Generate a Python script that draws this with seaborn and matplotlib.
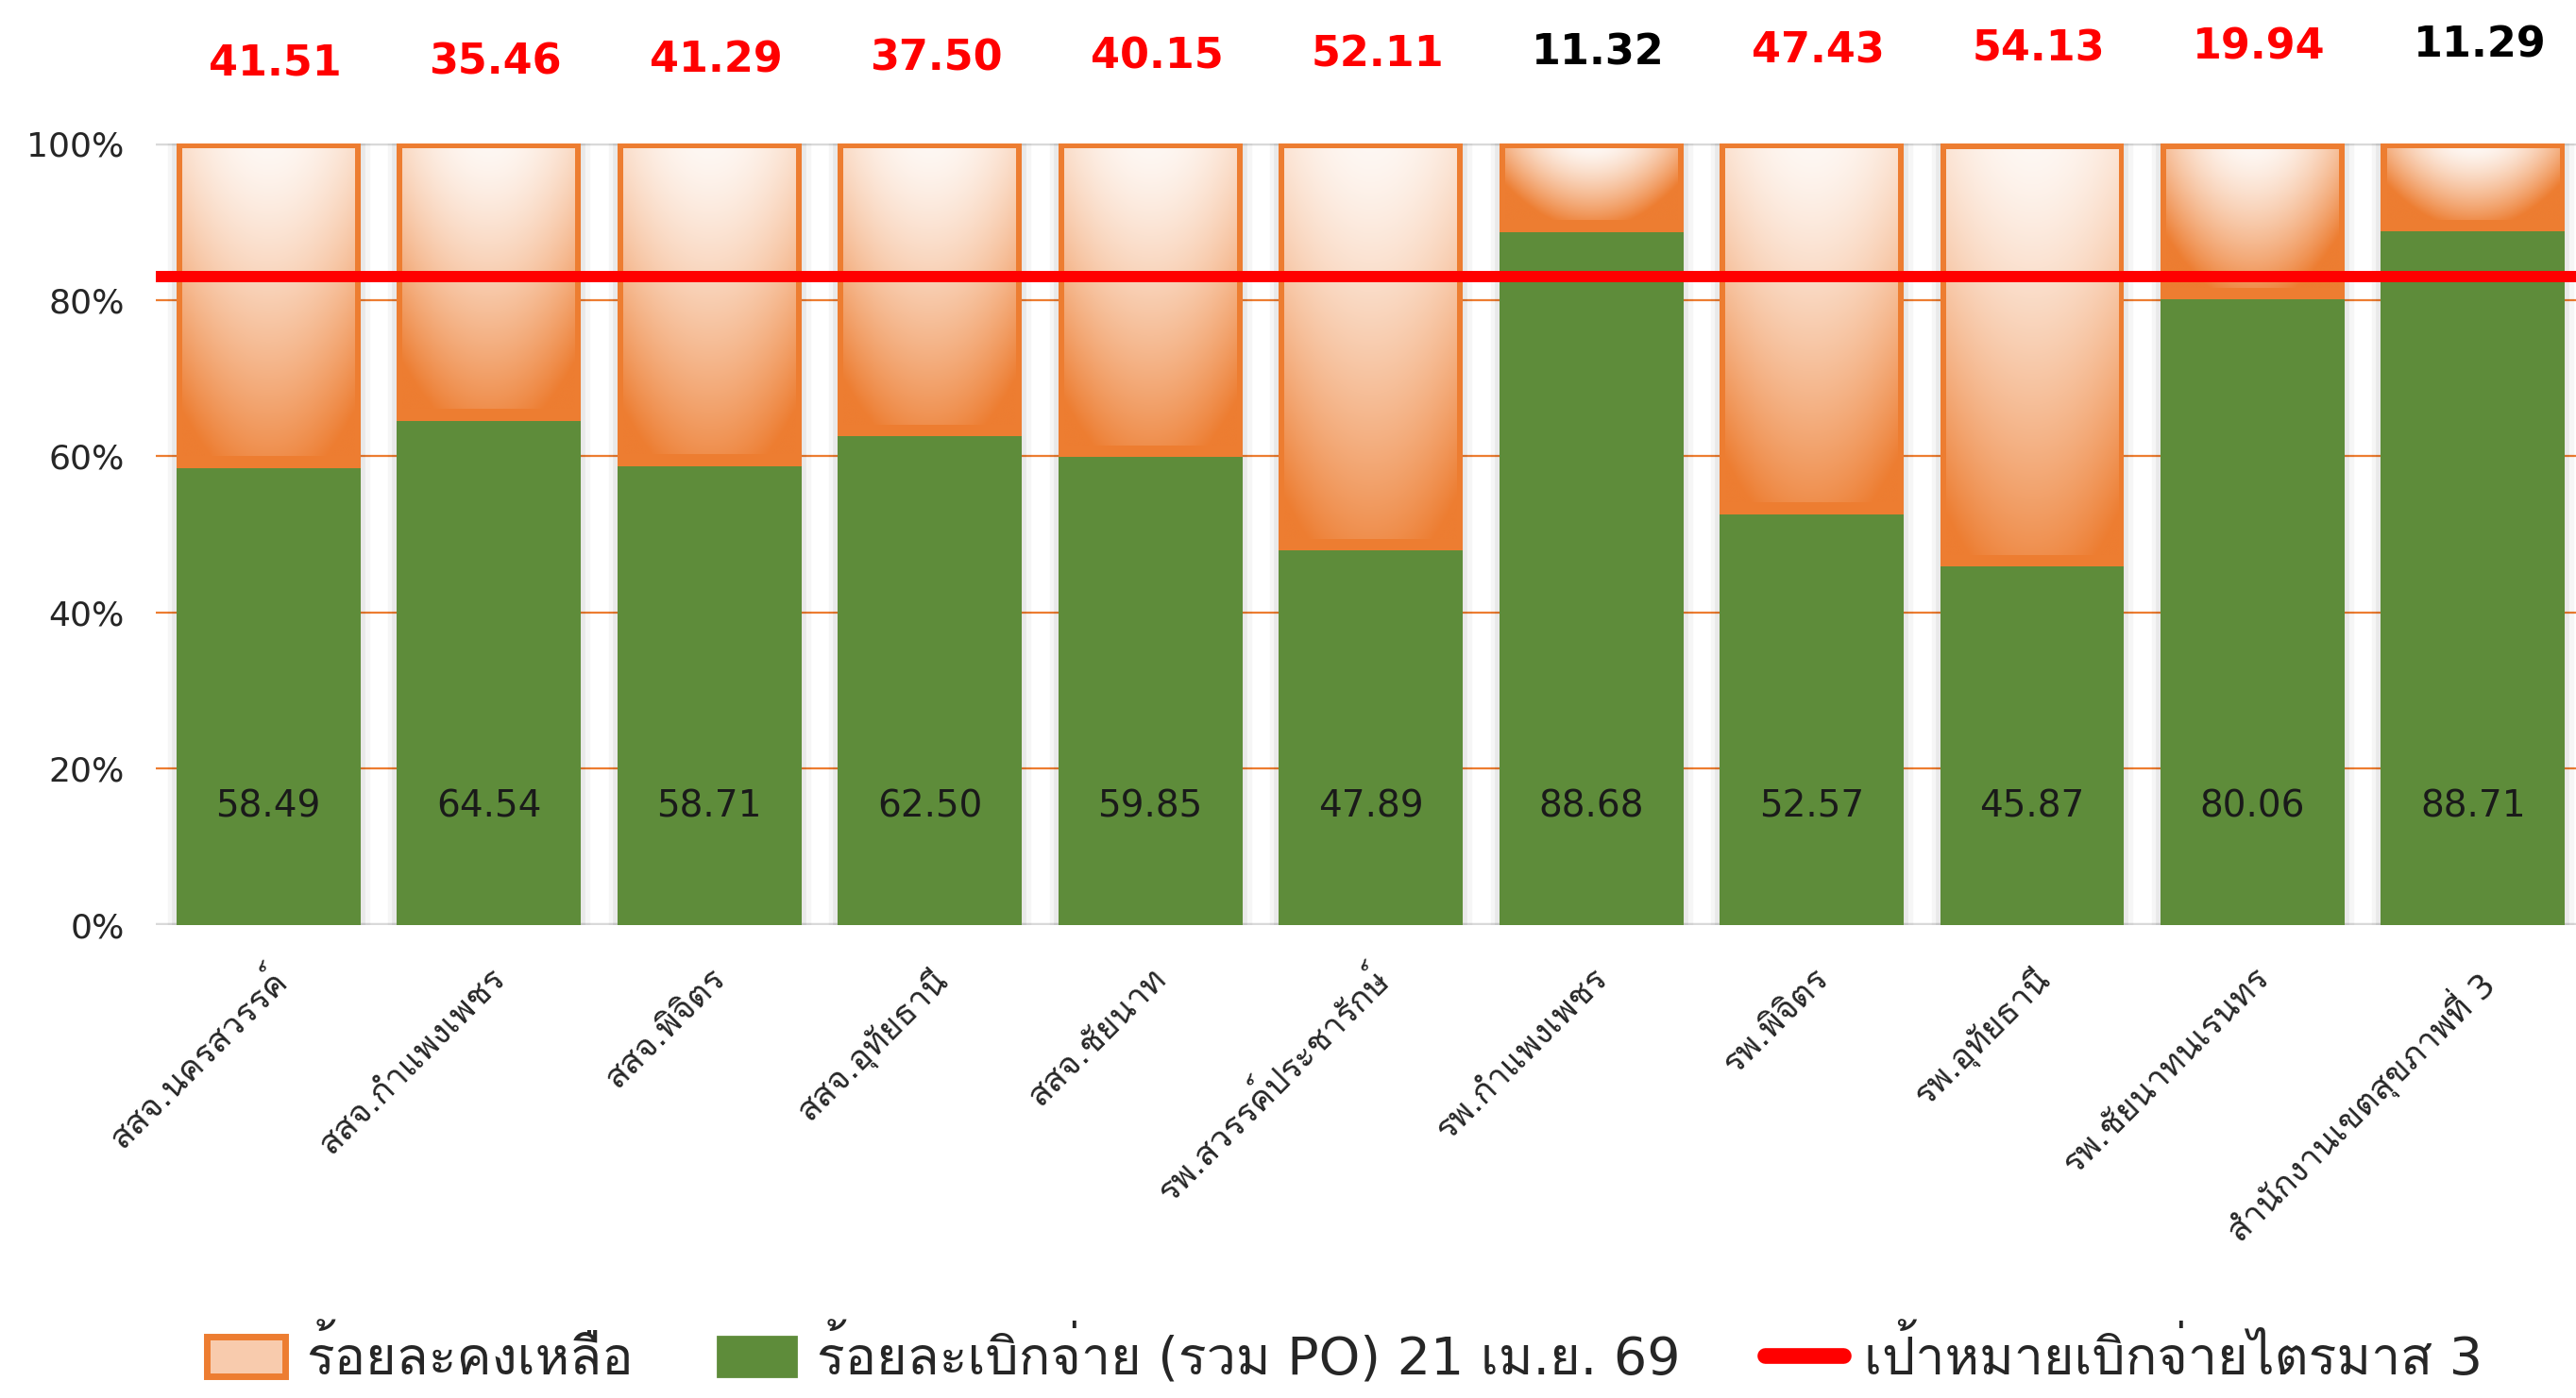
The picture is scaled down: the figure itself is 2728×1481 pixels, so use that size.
import matplotlib
matplotlib.use("Agg")
import matplotlib.pyplot as plt
import matplotlib.patheffects as pe
import numpy as np
import pandas as pd
import seaborn as sns
from matplotlib.lines import Line2D
from matplotlib.patches import Patch
from matplotlib.ticker import FuncFormatter

units = [
    "สสจ.นครสวรรค์",
    "สสจ.กำแพงเพชร",
    "สสจ.พิจิตร",
    "สสจ.อุทัยธานี",
    "สสจ.ชัยนาท",
    "รพ.สวรรค์ประชารักษ์",
    "รพ.กำแพงเพชร",
    "รพ.พิจิตร",
    "รพ.อุทัยธานี",
    "รพ.ชัยนาทนเรนทร",
    "สำนักงานเขตสุขภาพที่ 3",
]
disbursed = [58.49, 64.54, 58.71, 62.50, 59.85, 47.89, 88.68, 52.57, 45.87, 80.06, 88.71]
remaining = [41.51, 35.46, 41.29, 37.50, 40.15, 52.11, 11.32, 47.43, 54.13, 19.94, 11.29]
target_q3 = 83

label_remaining = "ร้อยละคงเหลือ"
label_disbursed = "ร้อยละเบิกจ่าย (รวม PO) 21 เม.ย. 69"
label_target = "เป้าหมายเบิกจ่ายไตรมาส 3"

GREEN = "#5E8C3A"
ORANGE = "#ED7D31"
RED = "#FF0000"

sns.set_style("white")
# DejaVu for digits/latin, Loma picks up the Thai glyphs
plt.rcParams["font.family"] = ["DejaVu Sans", "Loma"]

df = pd.DataFrame({"unit": units, "disbursed": disbursed, "remaining": remaining})
df["total"] = df["disbursed"] + df["remaining"]

fig = plt.figure(figsize=(13.64, 7.405), dpi=200)
ax = fig.add_axes([0.0605, 0.3383, 0.9395, 0.5591])

# gridlines
for g in [20, 40, 60, 80]:
    ax.axhline(g, color=ORANGE, lw=0.8, zorder=0)
for g in [0, 100]:
    ax.axhline(g, color="#D9D9D9", lw=1.6, zorder=0)

bar_w = 0.835
sns.barplot(data=df, x="unit", y="total", order=units, color=ORANGE, width=bar_w,
            saturation=1, linewidth=0, zorder=2, ax=ax)
n_orange = len(ax.patches)
sns.barplot(data=df, x="unit", y="disbursed", order=units, color=GREEN, width=bar_w,
            saturation=1, linewidth=0, zorder=4, ax=ax)
orange_bars = ax.patches[:n_orange]
green_bars = ax.patches[n_orange:]

# soft grey glow around the bars
for ob in orange_bars:
    ob.set_path_effects([
        pe.Stroke(linewidth=7, foreground="black", alpha=0.035),
        pe.Stroke(linewidth=3.5, foreground="black", alpha=0.05),
        pe.Normal(),
    ])

# gradient fill inside the orange (remaining) segment
orange_rgb = np.array([237, 125, 49]) / 255.0
for ob, gb in zip(orange_bars, green_bars):
    x0 = ob.get_x() + 0.026
    x1 = ob.get_x() + ob.get_width() - 0.026
    y_lo = gb.get_height() + 1.5
    y_hi = ob.get_height() - 0.7
    seg_h = y_hi - y_lo
    xs = np.linspace(-1, 1, 120)
    ys = np.linspace(0, 1, 200)
    dx, dy = np.meshgrid(xs, ys)
    s = min(1.0, 14.0 / max(seg_h, 1e-6))
    t = np.clip(0.06 + 0.8 * dy ** 1.3 + 0.55 * s * dx ** 2 + 0.1 * dx ** 2 * dy, 0, 1)
    img = (1 - t)[..., None] * np.ones(3) + t[..., None] * orange_rgb
    ax.imshow(img, extent=[x0, x1, y_lo, y_hi], origin="upper", aspect="auto",
              interpolation="bicubic", zorder=3)

ax.axhline(target_q3, color=RED, lw=4.3, zorder=6)

# value labels
n = len(units)
for i, (d, r) in enumerate(zip(disbursed, remaining)):
    ax.text(i, 15.2, f"{d:.2f}", ha="center", va="center", fontsize=14, color="#1a1a1a", zorder=7)
    top_y = 110.2 + 2.4 * i / (n - 1)
    color = RED if r > 100 - target_q3 else "black"
    ax.text(i + 0.03, top_y, f"{r:.2f}", ha="center", va="center", fontsize=16,
            fontweight="bold", color=color, clip_on=False)

ax.set_xlim(-0.51, 10.467)
ax.set_ylim(0, 100)
ax.set_yticks([0, 20, 40, 60, 80, 100])
ax.yaxis.set_major_formatter(FuncFormatter(lambda v, p: f"{v:.0f}%"))
ax.tick_params(axis="y", length=0, labelsize=13, pad=12)
ax.tick_params(axis="x", length=0, labelsize=13, pad=14)
ax.set_xticks(range(n))
ax.set_xticklabels(units, rotation=45, ha="right", va="top", rotation_mode="anchor")
ax.set_xlabel("")
ax.set_ylabel("")
for sp in ax.spines.values():
    sp.set_visible(False)

handles = [
    Patch(facecolor="#F8CBAD", edgecolor=ORANGE, linewidth=2.5),
    Patch(facecolor=GREEN, edgecolor=GREEN),
    Line2D([0], [0], color=RED, lw=6, solid_capstyle="round"),
]
fig.legend(handles, [label_remaining, label_disbursed, label_target], loc="center",
           bbox_to_anchor=(0.522, 0.031), ncol=3, frameon=False, fontsize=20,
           handlelength=1.5, handleheight=0.8, handletextpad=0.4, columnspacing=1.6)

fig.savefig("out.png", dpi=200)
